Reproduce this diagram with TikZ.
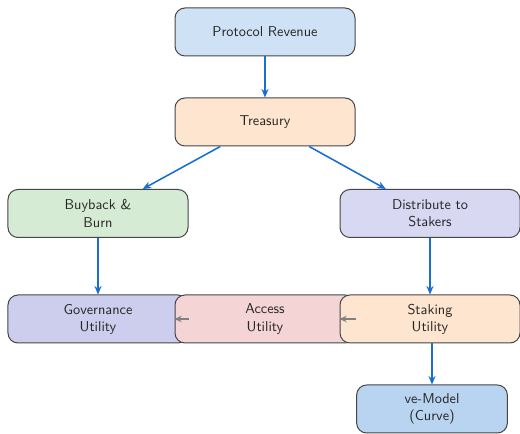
\documentclass[tikz,border=0pt]{standalone}
\usetikzlibrary{arrows.meta}
\definecolor{cRev}{RGB}{207,226,245}
\definecolor{cPeach}{RGB}{253,229,207}
\definecolor{cGreen}{RGB}{214,235,212}
\definecolor{cLav}{RGB}{216,216,243}
\definecolor{cGov}{RGB}{205,206,237}
\definecolor{cPink}{RGB}{244,212,213}
\definecolor{cVe}{RGB}{184,212,240}
\definecolor{cArrow}{RGB}{26,110,210}
\definecolor{cBorder}{RGB}{70,70,70}
\tikzset{
  box/.style={draw=cBorder, line width=0.7pt, rounded corners=7pt,
    minimum width=126pt, minimum height=33.6pt, align=center,
    font=\sffamily, text=black!85, inner sep=2pt},
  smallbox/.style={box, minimum width=105.5pt},
  flow/.style={-{Stealth[length=6pt,width=5pt]}, draw=cArrow, line width=1.1pt},
  side/.style={-{Stealth[length=5pt,width=4.5pt]}, draw=gray, line width=1pt}
}
\begin{document}
\begin{tikzpicture}[x=0.7pt,y=-0.7pt]
\useasboundingbox (0,0) rectangle (520,434);
\node[box, fill=cRev] (rev) at (265,32) {Protocol Revenue};
\node[box, fill=cPeach] (tre) at (265,122) {Treasury};
\node[box, fill=cGreen] (buy) at (98,213.5) {Buyback \&\\Burn};
\node[box, fill=cLav] (dis) at (430,213.5) {Distribute to\\Stakers};
\node[box, fill=cGov] (gov) at (98,319) {Governance\\Utility};
\node[box, fill=cPink] (acc) at (265,319) {Access\\Utility};
\node[box, fill=cPeach] (stk) at (430,319) {Staking\\Utility};
\node[smallbox, fill=cVe] (ve) at (432,409) {ve-Model\\(Curve)};
\draw[flow] (rev) -- (tre);
\draw[flow] (tre) -- (buy);
\draw[flow] (tre) -- (dis);
\draw[flow] (buy) -- (gov);
\draw[flow] (dis) -- (stk);
\draw[flow] (stk.south -| ve.north) -- (ve);
\draw[side] (gov) -- (acc);
\draw[side] (acc) -- (stk);
\end{tikzpicture}
\end{document}
